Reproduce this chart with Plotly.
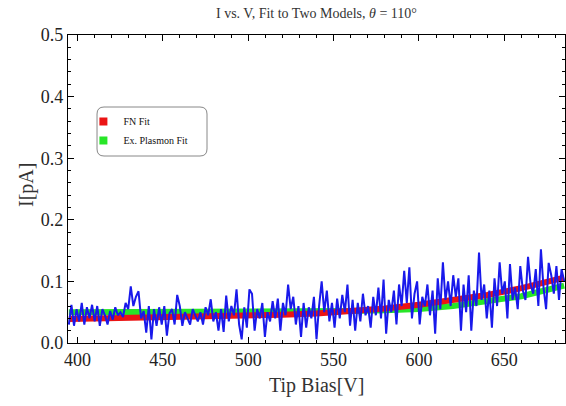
import numpy as np
import plotly.graph_objects as go

# ---- data ----
bias_start, bias_stop = 395.0, 685.0
current = [
    0.030, 0.062, 0.028, 0.055, 0.035, 0.065, 0.030, 0.058, 0.040, 0.062,
    0.035, 0.060, 0.028, 0.055, 0.045, 0.030, 0.052, 0.038, 0.058, 0.045,
    0.050, 0.042, 0.065, 0.055, 0.092, 0.060, 0.075, 0.084, 0.040, 0.052,
    0.017, 0.060, 0.006, 0.055, 0.028, 0.058, 0.030, 0.060, 0.012, 0.048,
    0.055, 0.030, 0.078, 0.060, 0.028, 0.050, 0.040, 0.030, 0.055, 0.045,
    0.035, 0.050, 0.030, 0.058, 0.045, 0.071, 0.035, 0.050, 0.020, 0.055,
    0.018, 0.077, 0.035, 0.060, 0.045, 0.087, 0.030, 0.006, 0.058, 0.025,
    0.087, 0.080, 0.020, 0.055, 0.040, 0.065, 0.010, 0.050, 0.035, 0.068,
    0.040, 0.072, 0.020, 0.065, 0.045, 0.095, 0.055, 0.075, 0.030, 0.060,
    0.010, 0.065, 0.025, 0.058, 0.040, 0.075, 0.006, 0.060, 0.100, 0.050,
    0.085, 0.035, 0.065, 0.025, 0.072, 0.040, 0.078, 0.050, 0.095, 0.028,
    0.070, 0.020, 0.065, 0.035, 0.080, 0.045, 0.060, 0.025, 0.075, 0.045,
    0.090, 0.040, 0.103, 0.015, 0.070, 0.050, 0.085, 0.030, 0.095, 0.060,
    0.117, 0.065, 0.123, 0.040, 0.080, 0.100, 0.030, 0.075, 0.060, 0.095,
    0.045, 0.085, 0.015, 0.105, 0.055, 0.131, 0.070, 0.100, 0.060, 0.110,
    0.075, 0.105, 0.020, 0.095, 0.050, 0.110, 0.020, 0.085, 0.060, 0.147,
    0.070, 0.095, 0.040, 0.085, 0.025, 0.105, 0.060, 0.131, 0.080, 0.100,
    0.040, 0.128, 0.070, 0.090, 0.055, 0.125, 0.085, 0.070, 0.140, 0.095,
    0.080, 0.120, 0.060, 0.152, 0.090, 0.055, 0.130, 0.110, 0.080, 0.125,
    0.070, 0.120, 0.100,
]
bias = np.linspace(bias_start, bias_stop, len(current))

fit_bias = [395, 420, 450, 480, 500, 520, 540, 560, 580, 600, 620, 640, 660, 685]
fn_fit = [0.039, 0.040, 0.041, 0.043, 0.044, 0.046, 0.048, 0.051, 0.056, 0.062, 0.069, 0.078, 0.089, 0.106]
plasmon_fit = [0.050, 0.050, 0.050, 0.050, 0.050, 0.050, 0.051, 0.052, 0.053, 0.055, 0.060, 0.067, 0.076, 0.093]

x_ticks = [400, 450, 500, 550, 600, 650]
y_ticks = [0.0, 0.1, 0.2, 0.3, 0.4, 0.5]

BLUE = "rgb(25,25,235)"
RED = "rgb(235,20,20)"
GREEN = "rgb(40,230,40)"
SERIF = "Liberation Serif"

fig = go.Figure()
fig.add_trace(go.Scatter(x=fit_bias, y=plasmon_fit, mode="lines", line=dict(color=GREEN, width=6),
                         showlegend=False, hoverinfo="skip"))
fig.add_trace(go.Scatter(x=fit_bias, y=fn_fit, mode="lines", line=dict(color=RED, width=6),
                         showlegend=False, hoverinfo="skip"))
fig.add_trace(go.Scatter(x=bias, y=current, mode="lines", line=dict(color=BLUE, width=2),
                         showlegend=False))
fig.add_trace(go.Scatter(x=[None], y=[None], mode="markers", name="FN Fit",
                         marker=dict(symbol="square", size=8, color=RED)))
fig.add_trace(go.Scatter(x=[None], y=[None], mode="markers", name="Ex. Plasmon Fit",
                         marker=dict(symbol="square", size=8, color=GREEN)))

axis_common = dict(
    showgrid=False, zeroline=False, showline=True, linecolor="black", linewidth=1.3,
    mirror="ticks", ticks="inside", ticklen=6, tickwidth=1, tickcolor="black",
    automargin=False,
)
fig.update_xaxes(range=[394.5, 685.5], tickvals=x_ticks, ticktext=[str(v) for v in x_ticks],
                 minor=dict(dtick=10, tick0=400, ticks="inside", ticklen=3, tickcolor="black"),
                 **axis_common)
fig.update_yaxes(range=[0, 0.5], tickvals=y_ticks, ticktext=[f"{v:.1f}" for v in y_ticks],
                 minor=dict(dtick=0.02, tick0=0, ticks="inside", ticklen=3, tickcolor="black"),
                 **axis_common)
fig.update_xaxes(tickfont=dict(family=SERIF, size=18, color="#222"))
fig.update_yaxes(tickfont=dict(family=SERIF, size=18, color="#222"))

# rounded legend frame (paper coordinates)
x0, x1, yt, yb = 0.0584, 0.2797, 0.7662, 0.6071
rx, ry = 7 / 497, 7 / 308
frame_path = (f"M {x0+rx},{yt} L {x1-rx},{yt} Q {x1},{yt} {x1},{yt-ry} L {x1},{yb+ry} "
              f"Q {x1},{yb} {x1-rx},{yb} L {x0+rx},{yb} Q {x0},{yb} {x0},{yb+ry} "
              f"L {x0},{yt-ry} Q {x0},{yt} {x0+rx},{yt} Z")

fig.update_layout(
    width=566, height=406,
    margin=dict(l=68, r=1, t=35, b=63),
    paper_bgcolor="white", plot_bgcolor="white",
    font=dict(family=SERIF, color="#222"),
    showlegend=True,
    legend=dict(x=0.031, y=0.766, xanchor="left", yanchor="top",
                bgcolor="rgba(0,0,0,0)", borderwidth=0,
                font=dict(family=SERIF, size=10, color="#111"),
                itemwidth=30, tracegroupgap=0),
    shapes=[dict(type="path", path=frame_path, xref="paper", yref="paper",
                 fillcolor="white", line=dict(color="#888", width=1), layer="above")],
    annotations=[
        dict(text="I vs. V, Fit to Two Models, <i>θ</i> = 110°", x=0.5, y=1, xref="paper", yref="paper",
             xanchor="center", yanchor="middle", yshift=22, showarrow=False,
             font=dict(family=SERIF, size=14, color="#333")),
        dict(text="Tip Bias[V]", x=0.5, y=0, xref="paper", yref="paper",
             xanchor="center", yanchor="middle", yshift=-42, showarrow=False,
             font=dict(family=SERIF, size=20, color="#333")),
        dict(text="I[pA]", x=0, y=0.513, xref="paper", yref="paper", textangle=-90,
             xanchor="center", yanchor="middle", xshift=-41, showarrow=False,
             font=dict(family=SERIF, size=20, color="#333")),
    ],
)

fig.write_html("out.html", config={"displayModeBar": False},
               post_script="document.body.style.margin='0';")
